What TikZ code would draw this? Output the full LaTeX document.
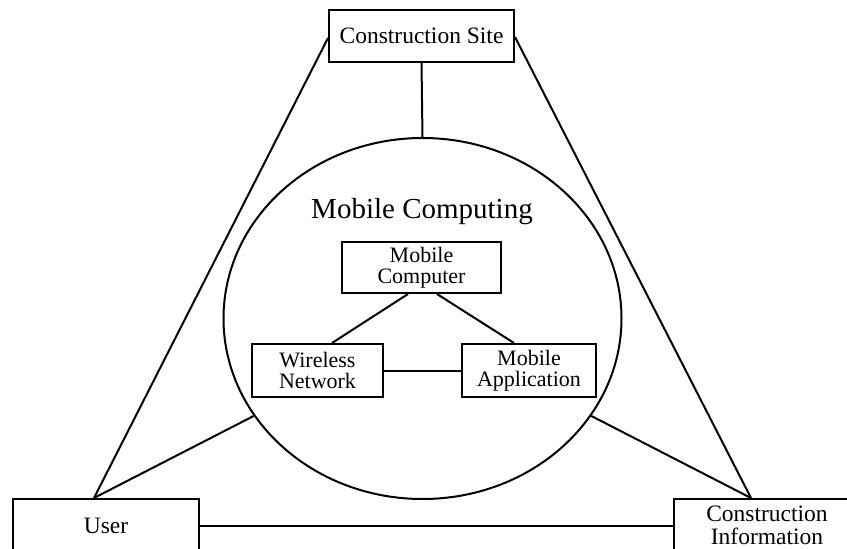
\documentclass[tikz,border=0pt]{standalone}
\usepackage{fontspec}
\setmainfont{Liberation Serif}
\usetikzlibrary{shapes.geometric,calc}
\tikzset{
  box/.style={draw=black, line width=2pt, rectangle, inner sep=0pt, align=center},
  inner/.style={box, font=\fontsize{22}{21}\selectfont},
  outer/.style={box, font=\fontsize{23.5}{22.5}\selectfont},
  conn/.style={draw=black, line width=2pt}
}
\begin{document}
\begin{tikzpicture}[x=1pt,y=-1pt]
\useasboundingbox (0,0) rectangle (847,549);
\node[outer, minimum width=185pt, minimum height=52pt] (cs) at (421.5,36) {Construction Site};
\node[draw=black, line width=2pt, ellipse, inner sep=0pt, minimum width=398pt, minimum height=361pt] (circ) at (422.5,318.5) {};
\node[font=\fontsize{29}{30}\selectfont, inner sep=0pt] (title) at (422,212) {Mobile Computing};
\node[inner, minimum width=159pt, minimum height=51pt] (mcomp) at (421.5,267.5) {Mobile\\Computer};
\node[inner, minimum width=131pt, minimum height=53pt] (wn) at (317.5,370.5) {Wireless\\Network};
\node[inner, minimum width=134pt, minimum height=53pt] (mapp) at (529,370.5) {Mobile\\Application};
\node[outer, minimum width=186pt, minimum height=53pt] (user) at (106,525.5) {User};
\node[outer, minimum width=186pt, minimum height=53pt] (ci) at (767,525.5) {Construction\\Information};
\coordinate (uapex) at ($(user.north)+(-12,0)$);
\coordinate (capex) at ($(ci.north)+(-16,0)$);
\coordinate (csl) at ($(cs.west)+(0,2)$);
\coordinate (csr) at ($(cs.east)+(0,1)$);
\draw[conn] (cs.south) -- (circ.north);
\draw[conn] (csl) -- (uapex);
\draw[conn] (csr) -- (capex);
\draw[conn] (circ.210.5) -- (uapex);
\draw[conn] (circ.330.7) -- (capex);
\draw[conn] (user.east) -- (ci.west);
\draw[conn] ($(mcomp.south)+(-13.5,0)$) -- ($(wn.north)+(14.5,0)$);
\draw[conn] ($(mcomp.south)+(15.5,0)$) -- ($(mapp.north)+(-15,0)$);
\draw[conn] (wn.east) -- (mapp.west);
\end{tikzpicture}
\end{document}
